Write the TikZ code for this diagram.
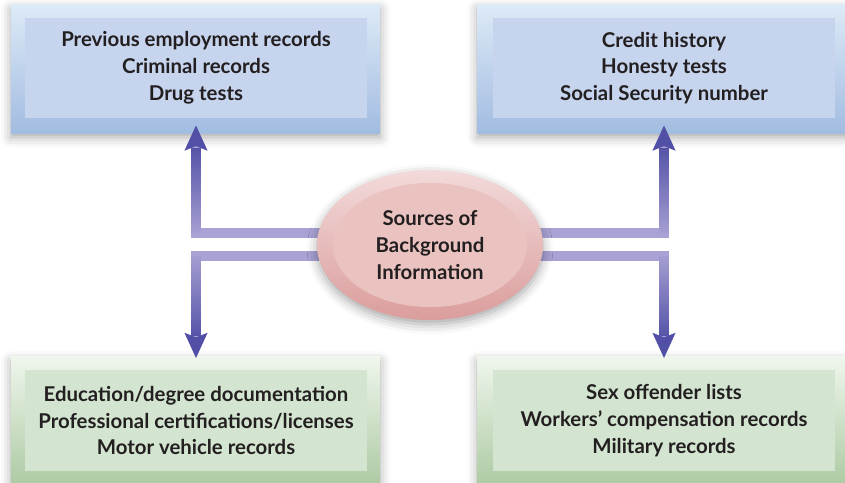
\documentclass[tikz,border=0pt]{standalone}
\usepackage{fontspec}
\setsansfont{Lato}
\usepackage{xcolor}
\usetikzlibrary{arrows.meta,positioning,calc,shapes.geometric,shadows.blur,fadings,backgrounds}
\definecolor{txtDark}{HTML}{231F20}
\definecolor{blueTop}{HTML}{DDEAF7}
\definecolor{blueBot}{HTML}{A2BCE1}
\definecolor{blueIn}{HTML}{C6D4EE}
\definecolor{greenTop}{HTML}{EFF6EC}
\definecolor{greenBot}{HTML}{ADCAA3}
\definecolor{greenIn}{HTML}{D3E5D0}
\definecolor{hubTop}{HTML}{F3DADA}
\definecolor{hubBot}{HTML}{DA9D9C}
\definecolor{hubIn}{HTML}{EAC3C0}
\definecolor{barLav}{HTML}{A9A3D5}
\definecolor{arrowDark}{HTML}{5250A6}
\tikzfading[name=fade up, top color=transparent!0, bottom color=transparent!100]
\tikzfading[name=fade down, top color=transparent!100, bottom color=transparent!0]

\begin{document}
\begin{tikzpicture}[
  x=0.025cm, y=0.025cm,
  font=\sffamily\bfseries\fontsize{14.5}{19.1}\selectfont, text=txtDark,
  soft/.style={blur shadow={shadow xshift=0pt, shadow yshift=-3pt,
    shadow blur radius=7pt, shadow opacity=35}},
  blueframe/.style={rectangle, minimum width=9.225cm, minimum height=3.2cm,
    top color=blueTop, bottom color=blueBot, soft},
  bluebox/.style={rectangle, fill=blueIn, minimum width=8.55cm,
    minimum height=2.5cm, align=center},
  greenframe/.style={rectangle, minimum width=9.225cm, minimum height=3.2cm,
    top color=greenTop, bottom color=greenBot, soft},
  greenbox/.style={rectangle, fill=greenIn, minimum width=8.55cm,
    minimum height=2.5cm, align=center},
  hubouter/.style={ellipse, minimum width=5.65cm, minimum height=3.75cm,
    top color=hubTop, bottom color=hubBot, soft},
  hubinner/.style={ellipse, minimum width=4.85cm, minimum height=3.1cm,
    fill=hubIn, align=center},
  bar/.style={line width=7pt, draw=barLav,
    -{Stealth[length=0.62cm, width=0.55cm, inset=0.1cm, color=arrowDark]}},
  barup/.style={line width=7pt, draw=arrowDark, path fading=fade up},
  bardown/.style={line width=7pt, draw=arrowDark, path fading=fade down},
]
\useasboundingbox (0,0) rectangle (845,482);
\node[hubouter] (hub) at (430,237) {};
\node[hubinner] (hubin) at (430,237) {Sources of\\Background\\Information};

\begin{scope}[on background layer]
% boxes
\node[blueframe] (tlf) at (195.5,413) {};
\node[bluebox] (tl) at (196,414) {Previous employment records\\Criminal records\\Drug tests};
\node[blueframe] (trf) at (662,413) {};
\node[bluebox] (tr) at (664,414) {Credit history\\Honesty tests\\Social Security number};
\node[greenframe] (blf) at (195.5,61) {};
\node[greenbox] (bl) at (196,61.5) {Education/degree documentation\\Professional certifications/licenses\\Motor vehicle records};
\node[greenframe] (brf) at (662,61) {};
\node[greenbox] (br) at (664,61.5) {Sex offender lists\\Workers’ compensation records\\Military records};

% connectors
\coordinate (up) at ([yshift=0.3cm]hub.center);
\coordinate (dn) at ([yshift=-0.27cm]hub.center);
\draw[bar] (up) -| ([yshift=-0.175cm]tl.south);
\draw[bar] (up) -| ([yshift=-0.175cm]tr.south);
\draw[bar] (dn) -| ([yshift=0.3cm]bl.north);
\draw[bar] (dn) -| ([yshift=0.3cm]br.north);
\draw[barup] (up -| tl.south) -- ([yshift=-0.75cm]tl.south);
\draw[barup] (up -| tr.south) -- ([yshift=-0.75cm]tr.south);
\draw[bardown] (dn -| bl.north) -- ([yshift=0.85cm]bl.north);
\draw[bardown] (dn -| br.north) -- ([yshift=0.85cm]br.north);
\end{scope}
\end{tikzpicture}
\end{document}
